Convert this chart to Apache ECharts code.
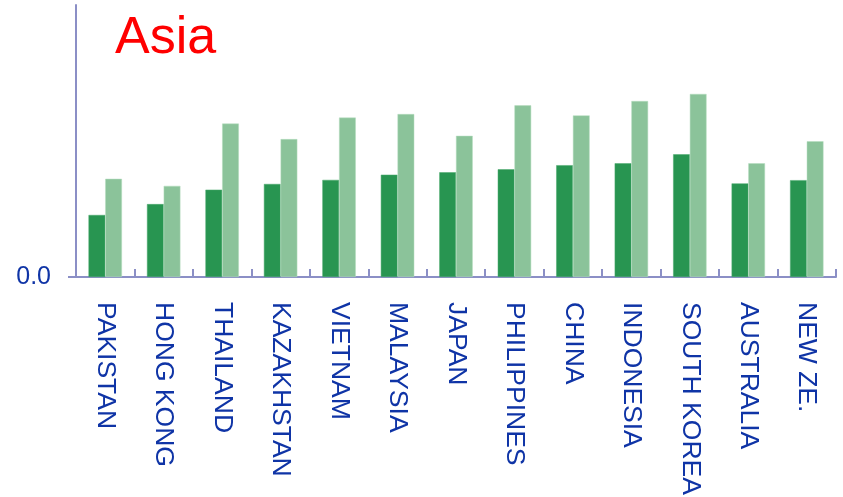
<!DOCTYPE html>
<html>
<head>
<meta charset="utf-8">
<script src="https://cdn.jsdelivr.net/npm/echarts@6/dist/echarts.min.js"></script>
<style>
  html, body { margin: 0; padding: 0; background: #ffffff; }
  #chart { width: 843px; height: 497px; }
</style>
</head>
<body>
<div id="chart"></div>
<script>
// Countries along the category axis
const categories = ['PAKISTAN', 'HONG KONG', 'THAILAND', 'KAZAKHSTAN', 'VIETNAM', 'MALAYSIA',
  'JAPAN', 'PHILIPPINES', 'CHINA', 'INDONESIA', 'SOUTH KOREA', 'AUSTRALIA', 'NEW ZE.'];

// First series (dark green)
const seriesA = [0.228, 0.268, 0.321, 0.342, 0.357, 0.376, 0.385, 0.396, 0.411, 0.418, 0.451, 0.344, 0.356];

// Second series (light green)
const seriesB = [0.361, 0.335, 0.564, 0.507, 0.586, 0.599, 0.519, 0.631, 0.594, 0.647, 0.673, 0.418, 0.499];

// Value-axis tick labels shown
const yTicks = [0];

const axisColor = '#8b8fc6';
const labelColor = '#0f34a6';

const chart = echarts.init(document.getElementById('chart'), null, { renderer: 'canvas' });

chart.setOption({
  animation: false,
  backgroundColor: '#ffffff',
  title: {
    text: 'Asia',
    left: 110,
    top: 8,
    textStyle: {
      color: '#ff0000',
      fontFamily: 'Liberation Sans, Arial, sans-serif',
      fontWeight: 'normal',
      fontSize: 52
    }
  },
  grid: { left: 76, right: 7, top: 5, bottom: 220, containLabel: false, outerBoundsMode: 'none' },
  xAxis: {
    type: 'category',
    data: categories,
    boundaryGap: true,
    axisLine: { show: true, lineStyle: { color: axisColor, width: 2 } },
    axisTick: { show: true, inside: true, length: 8, alignWithLabel: false,
      lineStyle: { color: axisColor, width: 2 } },
    axisLabel: {
      rotate: -90,
      interval: 0,
      margin: 25,
      color: labelColor,
      fontFamily: 'Liberation Sans, Arial, sans-serif',
      fontSize: 26.5
    },
    splitLine: { show: false }
  },
  yAxis: {
    type: 'value',
    min: 0,
    max: 1,
    interval: 1,
    axisLine: { show: true, lineStyle: { color: axisColor, width: 2 } },
    axisTick: { show: true, length: 8, customValues: yTicks,
      lineStyle: { color: axisColor, width: 2 } },
    axisLabel: {
      customValues: yTicks,
      formatter: v => v.toFixed(1),
      margin: 25,
      color: labelColor,
      fontFamily: 'Liberation Sans, Arial, sans-serif',
      fontSize: 25
    },
    splitLine: { show: false }
  },
  series: [
    {
      type: 'bar',
      data: seriesA,
      barWidth: 16.7,
      barGap: '0%',
      itemStyle: { color: '#289551', borderColor: '#4aa86d', borderWidth: 0.5 }
    },
    {
      type: 'bar',
      data: seriesB,
      barWidth: 16.7,
      barGap: '0%',
      itemStyle: { color: '#8bc39a', borderColor: '#b4dcbf', borderWidth: 0.5 }
    }
  ]
});
</script>
</body>
</html>
